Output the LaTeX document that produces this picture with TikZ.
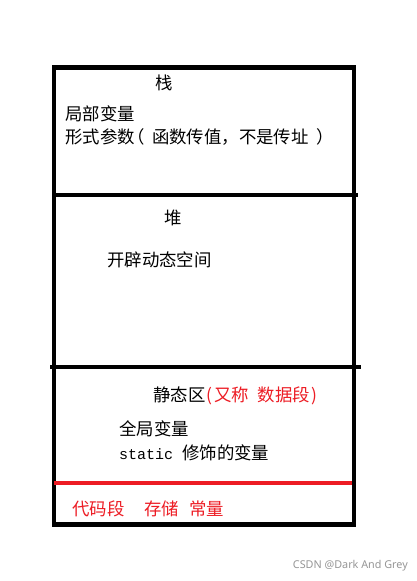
\documentclass[tikz,border=0pt]{standalone}
\usepackage{fontspec}
\setmainfont{Noto Sans CJK SC}
\newfontfamily\cjk{Noto Sans CJK SC}
\newfontfamily\monofnt{Liberation Mono}
\newfontfamily\wmfont{Noto Sans}
\definecolor{pred}{RGB}{237,28,36}
\definecolor{wmgray}{RGB}{150,150,150}
\newcommand{\hwl}{\makebox[0.5em][c]{(}}
\newcommand{\hwr}{\makebox[0.5em][c]{)}}
\newcommand{\hws}{\hspace{0.5em}}
\newcommand{\fwl}{\makebox[1em][l]{\kern-0.42em（}}
\newcommand{\fwr}{\makebox[1em][l]{\kern0.42em）}}
\begin{document}
\begin{tikzpicture}[x=1pt,y=-1pt,
  txt/.style={inner sep=0pt,anchor=west,font=\cjk\fontsize{17.4}{20}\selectfont},
  ctxt/.style={inner sep=0pt,anchor=center,font=\cjk\fontsize{17.4}{20}\selectfont},
  boxline/.style={line width=4.5pt,draw=black},
  redline/.style={line width=4pt,draw=pred}]
\useasboundingbox[fill=white] (0,0) rectangle (417,581);
% outer box
\draw[boxline] (54,67.5) rectangle (354,524.5);
% dividers
\coordinate (d1l) at (52,195);
\coordinate (d1r) at (358,195);
\coordinate (d2l) at (50,367);
\coordinate (d2r) at (361,367);
\coordinate (rl) at (54,483);
\coordinate (rr) at (352,483);
\draw[boxline] (d1l) -- (d1r);
\draw[boxline] (d2l) -- (d2r);
\draw[redline] (rl) -- (rr);
% stack
\node[ctxt] (zhan) at (164,83) {栈};
\node[txt] (jubu) at (65,114) {局部变量};
\node[txt] (xingshi) at (65,137) {形式参数\fwl 函数传值，不是传址\fwr};
% heap
\node[ctxt] (dui) at (173,218) {堆};
\node[txt] (kaipi) at (107,260) {开辟动态空间};
% static
\node[txt] (jingtai) at (153,396) {静态区\textcolor{pred}{\hwl 又称\hws 数据段\hwr}};
\node[txt] (quanju) at (119,429) {全局变量};
\node[txt] (static) at (119,453) {{\monofnt\fontsize{15}{18}\selectfont static }修饰的变量};
% code
\node[txt,text=pred] (daima) at (72,509) {代码段};
\node[txt,text=pred] (cunchu) at (144,509) {存储};
\node[txt,text=pred] (changliang) at (189,509) {常量};
% watermark
\node[inner sep=0pt,anchor=east,text=wmgray,font=\wmfont\fontsize{10.8}{13}\selectfont] (wm) at (408,566) {CSDN @Dark And Grey};
\end{tikzpicture}
\end{document}
